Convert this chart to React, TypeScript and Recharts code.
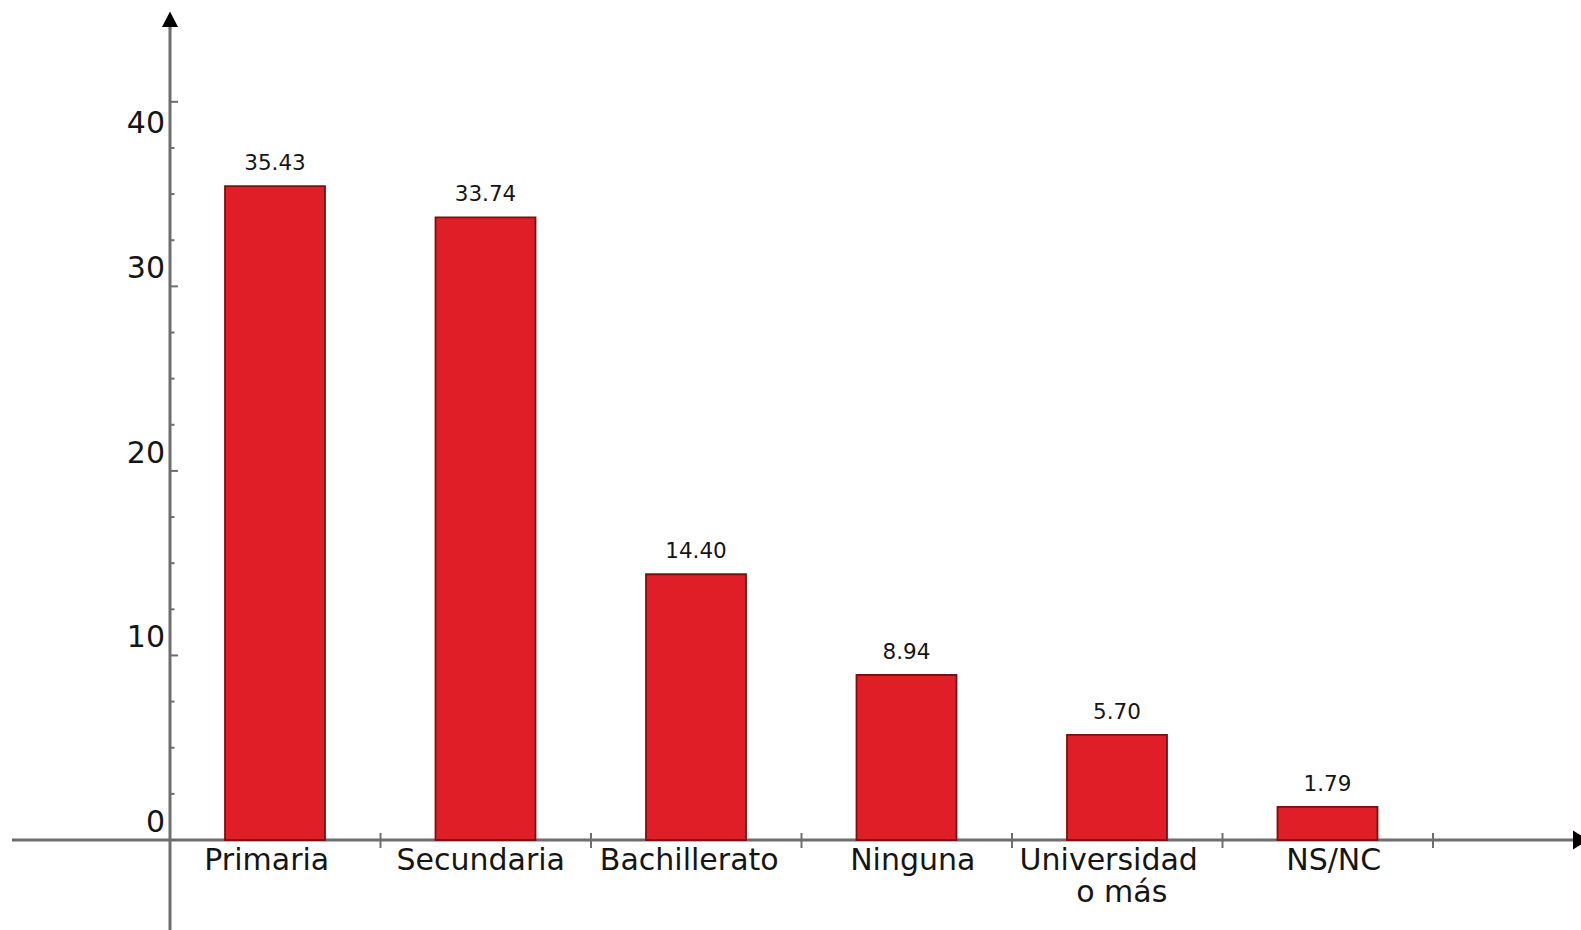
import React from 'react';
import { BarChart, Bar, XAxis, YAxis, LabelList, Customized } from 'recharts';

// ---- data ----
const categories = ['Primaria', 'Secundaria', 'Bachillerato', 'Ninguna', 'Universidad\no más', 'NS/NC'];
const values = [35.43, 33.74, 14.4, 8.94, 5.7, 1.79];
const yTicks = [0, 2.5, 5, 7.5, 10, 12.5, 15, 17.5, 20, 22.5, 25, 27.5, 30, 32.5, 35, 37.5, 40];
const yMajorTicks = [0, 10, 20, 30, 40];

const data = categories.map((c, i) => ({ cat: c, value: values[i] }));

// ---- layout / style ----
const W = 1581;
const H = 930;
const PLOT_L = 170;
const PLOT_R = 1433;
const PLOT_T = 28;
const ZERO_Y = 840;
const Y_MAX = 44;
const BAND = (PLOT_R - PLOT_L) / categories.length;
const AXIS = '#6e6e6e';
const TEXT = '#151515';
const FONT = '"DejaVu Sans", Verdana, sans-serif';
const BIG = 30;
const SMALL = 21.5;
const LABEL_DX = [-8.5, -5, -7, 6, -8.5, 6];
const LINE2_DX = 4.5;

const YTick = (props: any) => {
  const { x, y, payload } = props;
  const v = payload.value;
  const major = yMajorTicks.includes(v);
  const dy = v === 40 ? 31.6 : -8.3;
  return (
    <g>
      <line x1={x} x2={x + (major ? 8 : 4.5)} y1={y} y2={y} stroke={AXIS} strokeWidth={2} />
      {major && (
        <text x={x - 5} y={y + dy} textAnchor="end" fontFamily={FONT} fontSize={BIG} fill={TEXT}>
          {String(v)}
        </text>
      )}
    </g>
  );
};

const XTick = (props: any) => {
  const { x, y, payload, index } = props;
  const lines = String(payload.value).split('\n');
  const dx = LABEL_DX[index] ?? 0;
  return (
    <g>
      <line x1={x + BAND / 2} x2={x + BAND / 2} y1={y - 7} y2={y + 8} stroke={AXIS} strokeWidth={2} />
      {lines.map((ln, i) => (
        <text
          key={i}
          x={x + (i === 0 ? dx : LINE2_DX)}
          y={y + 30 + i * 31.7}
          textAnchor="middle"
          fontFamily={FONT}
          fontSize={BIG}
          fill={TEXT}
        >
          {ln}
        </text>
      ))}
    </g>
  );
};

const AxisDecor = () => (
  <g>
    <line x1={12} x2={1575} y1={ZERO_Y} y2={ZERO_Y} stroke={AXIS} strokeWidth={3} />
    <polygon points={`1573,830.5 1588,${ZERO_Y} 1573,849.5`} fill="#000" />
    <line x1={PLOT_L} x2={PLOT_L} y1={ZERO_Y} y2={H} stroke={AXIS} strokeWidth={3} />
    <line x1={PLOT_L} x2={PLOT_L} y1={24} y2={PLOT_T + 1} stroke={AXIS} strokeWidth={3} />
    <polygon points={`162,27 ${PLOT_L},11.5 178,27`} fill="#000" />
  </g>
);

export default function App() {
  return (
    <div style={{ position: 'absolute', left: 0, top: 0, width: W, height: H, background: '#fff' }}>
      <BarChart
        width={W}
        height={H}
        data={data}
        margin={{ top: PLOT_T, right: W - PLOT_R, bottom: 0, left: PLOT_L - 60 }}
      >
        <Customized component={AxisDecor} />
        <XAxis
          dataKey="cat"
          height={H - ZERO_Y}
          axisLine={false}
          tickLine={false}
          tickSize={0}
          tickMargin={0}
          interval={0}
          tick={XTick}
        />
        <YAxis
          type="number"
          domain={[0, Y_MAX]}
          ticks={yTicks}
          width={60}
          axisLine={{ stroke: AXIS, strokeWidth: 3 }}
          tickLine={false}
          tickSize={0}
          tickMargin={0}
          interval={0}
          tick={YTick}
        />
        <Bar dataKey="value" fill="#e01e27" stroke="#7a1010" strokeWidth={1.8} barSize={100} isAnimationActive={false}>
          <LabelList
            dataKey="value"
            position="top"
            offset={16}
            formatter={(v: any) => Number(v).toFixed(2)}
            style={{ fontFamily: FONT, fontSize: SMALL, fill: TEXT }}
          />
        </Bar>
      </BarChart>
    </div>
  );
}
